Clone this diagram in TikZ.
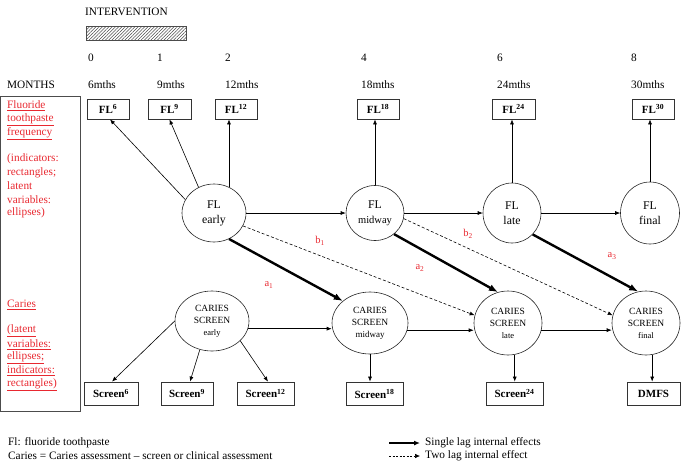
\documentclass[tikz,border=0pt]{standalone}
\usepackage{fontspec}
\setmainfont{Liberation Serif}
\usetikzlibrary{arrows.meta,patterns.meta,shapes.geometric}
\definecolor{myred}{RGB}{232,40,48}
\begin{document}
\begin{tikzpicture}[x=1pt,y=-1pt,
  txt/.style={inner sep=0pt, font=\fontsize{11.3}{13}\selectfont},
  wtxt/.style={txt, anchor=west},
  redtxt/.style={txt, text=myred, anchor=west},
  redlab/.style={txt, text=myred, font=\fontsize{10.5}{12}\selectfont},
  ind/.style={draw=black!80, line width=0.8pt, minimum height=20pt, inner sep=0pt,
    font=\bfseries\fontsize{11}{13}\selectfont},
  scr/.style={ind, minimum height=23pt},
  flat/.style={ellipse, draw=black!85, line width=0.6pt, inner sep=0pt, align=center,
    font=\fontsize{11.8}{15}\selectfont},
  clat/.style={ellipse, draw=black!85, line width=0.6pt, inner sep=0pt, align=center,
    font=\fontsize{9.5}{12}\selectfont},
  arr/.style={-{Latex[length=5pt,width=4pt]}, line width=0.6pt},
  thk/.style={-{Latex[length=9pt,width=7pt]}, line width=2.4pt},
  dsh/.style={arr, dash pattern=on 3pt off 2pt}]
\useasboundingbox (0,0) rectangle (685,461);

% header
\node[wtxt] (interv) at (85,12) {INTERVENTION};
\node[draw=black!70, line width=0.6pt,
  pattern={Lines[angle=45,distance=2.3pt,line width=0.55pt]}, pattern color=black!70,
  minimum width=100pt, minimum height=14pt, inner sep=0pt] (hatch) at (136,33) {};
\node[wtxt] (n0) at (88,58) {0};
\node[wtxt] (n1) at (157,58) {1};
\node[wtxt] (n2) at (225,58) {2};
\node[wtxt] (n4) at (361,58) {4};
\node[wtxt] (n6) at (497,58) {6};
\node[wtxt] (n8) at (631,58) {8};
\node[wtxt] (months) at (7,85) {MONTHS};
\node[wtxt] (m6) at (88,85) {6mths};
\node[wtxt] (m9) at (157,85) {9mths};
\node[wtxt] (m12) at (225,85) {12mths};
\node[wtxt] (m18) at (361,85) {18mths};
\node[wtxt] (m24) at (497,85) {24mths};
\node[wtxt] (m30) at (631,85) {30mths};

% legend box on the left
\node[draw=black!70, line width=0.6pt, minimum width=79pt, minimum height=314.5pt, inner sep=0pt,
  anchor=north west] (legbox) at (0.5,96) {};
\node[redtxt] (r1) at (7,106) {\underline{Fluoride}};
\node[redtxt] (r2) at (7,120) {\underline{toothpaste}};
\node[redtxt] (r3) at (7,133.5) {\underline{frequency}};
\node[redtxt] (r4) at (7,159) {(indicators:};
\node[redtxt] (r5) at (7,172.5) {rectangles;};
\node[redtxt] (r6) at (7,186) {latent};
\node[redtxt] (r7) at (7,199.5) {variables:};
\node[redtxt] (r8) at (7,213) {ellipses)};
\node[redtxt] (r9) at (7,305) {\underline{Caries}};
\node[redtxt] (r10) at (7,331) {\underline{(latent}};
\node[redtxt] (r11) at (7,344.5) {\underline{variables:}};
\node[redtxt] (r12) at (7,358) {\underline{ellipses;}};
\node[redtxt] (r13) at (7,371) {\underline{indicators:}};
\node[redtxt] (r14) at (7,384.5) {\underline{rectangles)}};

% FL indicators
\node[ind, minimum width=42pt] (fl6) at (108,109) {FL\textsuperscript{6}};
\node[ind, minimum width=43pt] (fl9) at (169.5,109) {FL\textsuperscript{9}};
\node[ind, minimum width=42pt] (fl12) at (236,109) {FL\textsuperscript{12}};
\node[ind, minimum width=42pt] (fl18) at (378,109) {FL\textsuperscript{18}};
\node[ind, minimum width=43pt] (fl24) at (513.5,109) {FL\textsuperscript{24}};
\node[ind, minimum width=42pt] (fl30) at (653,109) {FL\textsuperscript{30}};

% FL latent
\node[flat, minimum width=64pt, minimum height=58pt] (fle) at (214,213) {FL\\early};
\node[flat, minimum width=58pt, minimum height=55pt] (flm) at (375,213) {FL\\{\fontsize{10.5}{12}\selectfont midway}};
\node[flat, minimum width=58pt, minimum height=60pt] (fll) at (512,213) {FL\\late};
\node[flat, minimum width=59pt, minimum height=62pt] (flf) at (650,213) {FL\\final};

% caries latent
\node[clat, minimum width=74pt, minimum height=60pt] (cee) at (212,321) {CARIES\\SCREEN\\{\fontsize{8.5}{12}\selectfont early}};
\node[clat, minimum width=76pt, minimum height=62pt] (cem) at (370,323) {CARIES\\SCREEN\\{\fontsize{9}{12}\selectfont midway}};
\node[clat, minimum width=68pt, minimum height=64pt] (cel) at (508,323) {CARIES\\SCREEN\\{\fontsize{8.5}{12}\selectfont late}};
\node[clat, minimum width=68pt, minimum height=64pt] (cef) at (646,323) {CARIES\\SCREEN\\{\fontsize{8.5}{12}\selectfont final}};

% caries indicators
\node[scr, minimum width=54pt] (s6) at (111,393.5) {Screen\textsuperscript{6}};
\node[scr, minimum width=52pt] (s9) at (187,393.5) {Screen\textsuperscript{9}};
\node[scr, minimum width=57pt] (s12) at (265.5,393.5) {Screen\textsuperscript{12}};
\node[scr, minimum width=57pt] (s18) at (374.5,393.5) {Screen\textsuperscript{18}};
\node[scr, minimum width=57pt] (s24) at (514.5,393.5) {Screen\textsuperscript{24}};
\node[scr, minimum width=53pt] (dmfs) at (653.5,393.5) {DMFS};

% FL measurement arrows
\draw[arr] (fle.155) -- ([xshift=2pt]fl6.south);
\draw[arr] (fle.121) -- (fl9.south);
\draw[arr] (fle.60) -- (fle.60 |- fl12.south);
\draw[arr] (flm.north) -- (flm.north |- fl18.south);
\draw[arr] (fll.north) -- (fll.north |- fl24.south);
\draw[arr] (flf.north) -- (flf.north |- fl30.south);

% FL autoregression
\draw[arr] (fle.east) -- (flm.west);
\draw[arr] (flm.east) -- (fll.west);
\draw[arr] (fll.east) -- (flf.west);

% caries autoregression
\draw[arr] (cee.-12.6) -- (cee.-12.6 -| cem.west);
\draw[arr] (cem.-11) -- (cem.-11 -| cel.west);
\draw[arr] (cel.-12) -- (cel.-12 -| cef.west);

% caries measurement arrows
\draw[arr] (cee.180) -- ([xshift=1pt]s6.north);
\draw[arr] (cee.-113) -- ([xshift=3pt]s9.north);
\draw[arr] (cee.-35.5) -- ([xshift=2.5pt]s12.north);
\draw[arr] (cem.south) -- (cem.south |- s18.north);
\draw[arr] (cel.-78) -- (cel.-78 |- s24.north);
\draw[arr] (cef.-79) -- (cef.-79 |- dmfs.north);

% single lag (thick)
\draw[thk] (fle.-60.5) -- (cem.141.8);
\draw[thk] (flm.-48) -- (cel.108);
\draw[thk] (fll.-46) -- (cef.104.5);

% two lag (dashed)
\draw[dsh] (fle.-24) -- (cel.167);
\draw[dsh] (flm.-11) -- (cef.167);

% path labels
\node[redlab] (la1) at (269,285) {a\textsubscript{1}};
\node[redlab] (lb1) at (320,241) {b\textsubscript{1}};
\node[redlab] (la2) at (420,268) {a\textsubscript{2}};
\node[redlab] (lb2) at (468,234) {b\textsubscript{2}};
\node[redlab] (la3) at (612,256) {a\textsubscript{3}};

% bottom legend
\node[wtxt] (fn1) at (8,443) {Fl: fluoride toothpaste};
\node[wtxt] (fn2) at (8,456) {Caries = Caries assessment -- screen or clinical assessment};
\coordinate (k1a) at (389,443);
\coordinate (k1b) at (420,443);
\coordinate (k2a) at (389,456);
\coordinate (k2b) at (420,456);
\draw[-{Latex[length=6pt,width=5pt]}, line width=1.8pt] (k1a) -- (k1b);
\draw[-{Latex[length=5pt,width=4.5pt]}, line width=0.6pt, dash pattern=on 2pt off 1.5pt] (k2a) -- (k2b);
\node[wtxt] (k1t) at (425,443) {Single lag internal effects};
\node[wtxt] (k2t) at (425,456) {Two lag internal effect};
\end{tikzpicture}
\end{document}
